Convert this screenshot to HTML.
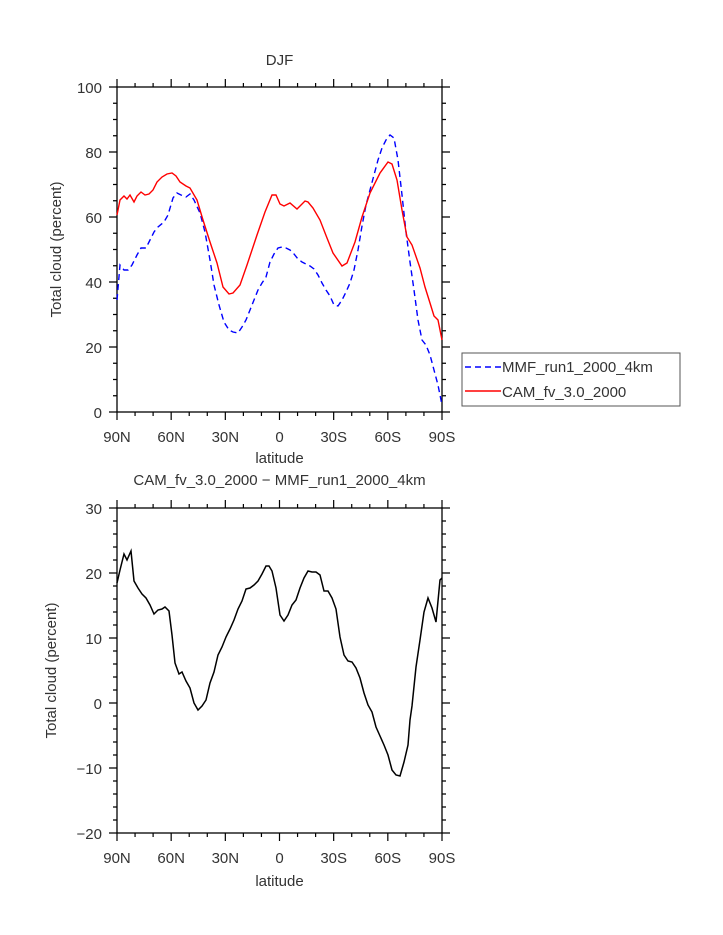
<!DOCTYPE html>
<html><head><meta charset="utf-8"><style>
html,body{margin:0;padding:0;background:#fff}
svg{display:block}
text{font-family:"Liberation Sans",sans-serif;fill:#333;font-size:15px}
</style></head><body>
<svg width="723" height="935" viewBox="0 0 723 935">
<!-- Plot 1 -->
<text x="279.5" y="65" text-anchor="middle" font-size="17">DJF</text>
<rect x="117" y="87" width="325" height="325" fill="none" stroke="#000" stroke-width="1.3"/>
<g stroke="#000" stroke-width="1.2" fill="none">
<path d="M117 412v8M171.17 412v8M225.33 412v8M279.5 412v8M333.67 412v8M387.83 412v8M442 412v8
M135.06 412v4M153.11 412v4M189.22 412v4M207.28 412v4M243.39 412v4M261.44 412v4M297.56 412v4M315.61 412v4M351.72 412v4M369.78 412v4M405.89 412v4M423.94 412v4"/>
<path d="M117 87v-8M171.17 87v-8M225.33 87v-8M279.5 87v-8M333.67 87v-8M387.83 87v-8M442 87v-8
M135.06 87v-4M153.11 87v-4M189.22 87v-4M207.28 87v-4M243.39 87v-4M261.44 87v-4M297.56 87v-4M315.61 87v-4M351.72 87v-4M369.78 87v-4M405.89 87v-4M423.94 87v-4"/>
<path d="M117 87h-8M117 152h-8M117 217h-8M117 282h-8M117 347h-8M117 412h-8
M117 103.25h-4M117 119.5h-4M117 135.75h-4M117 168.25h-4M117 184.5h-4M117 200.75h-4M117 233.25h-4M117 249.5h-4M117 265.75h-4M117 298.25h-4M117 314.5h-4M117 330.75h-4M117 363.25h-4M117 379.5h-4M117 395.75h-4"/>
<path d="M442 87h8M442 152h8M442 217h8M442 282h8M442 347h8M442 412h8
M442 103.25h4M442 119.5h4M442 135.75h4M442 168.25h4M442 184.5h4M442 200.75h4M442 233.25h4M442 249.5h4M442 265.75h4M442 298.25h4M442 314.5h4M442 330.75h4M442 363.25h4M442 379.5h4M442 395.75h4"/>
</g>
<g text-anchor="end">
<text x="102" y="93">100</text><text x="102" y="158">80</text><text x="102" y="223">60</text>
<text x="102" y="288">40</text><text x="102" y="353">20</text><text x="102" y="418">0</text>
</g>
<g text-anchor="middle">
<text x="117" y="442">90N</text><text x="171.17" y="442">60N</text><text x="225.33" y="442">30N</text>
<text x="279.5" y="442">0</text><text x="333.67" y="442">30S</text><text x="387.83" y="442">60S</text><text x="442" y="442">90S</text>
<text x="279.5" y="463">latitude</text>
</g>
<text transform="translate(61 249.5) rotate(-90)" text-anchor="middle">Total cloud (percent)</text>
<polyline fill="none" stroke="#0000ff" stroke-width="1.4" stroke-dasharray="6,4" points="117,300 120,265 124,270 128,270 132,265 137,255 141,248 146,248 150,240 154,232 158,227 164,222 168,215 173,198 177,193 181,195 186,197 190,194 194,200 200,213 205,232 210,260 214,285 219,305 224,322 229,330 233,332 238,333 242,327 246,320 250,310 254,300 258,290 262,283 266,277 270,262 274,254 278,248 282,247 286,248 290,250 294,254 298,259 302,262 306,264 310,266 314,269 318,275 322,283 326,290 330,296 334,305 338,306 342,300 346,292 350,283 354,270 358,250 362,226 366,205 370,190 374,175 378,160 382,148 386,140 390,135 394,138 398,160 402,195 406,232 410,262 414,290 418,320 422,340 426,345 430,355 434,370 438,385 442,405"/>
<polyline fill="none" stroke="#ff0000" stroke-width="1.4" points="117,215 120,200 124,196 127,199 130,195 134,202 137,196 141,192 145,195 149,194 153,190 157,182 162,177 167,174 172,173 176,176 180,182 186,186 190,188 197,200 203,220 210,242 217,263 223,287 229,294 233,293 240,285 247,265 257,235 265,212 272,195 276,195 280,204 284,206 290,203 297,209 305,201 308,202 313,208 320,220 327,238 333,253 342,266 347,263 355,242 362,217 370,193 380,173 388,162 392,164 397,180 402,210 407,237 412,245 420,268 425,287 430,303 434,316 438,320 442,340"/>
<!-- legend -->
<rect x="462" y="353" width="218" height="53" fill="#fff" stroke="#555" stroke-width="1"/>
<line x1="465" y1="367" x2="501" y2="367" stroke="#0000ff" stroke-width="1.4" stroke-dasharray="6,4"/>
<line x1="465" y1="391" x2="501" y2="391" stroke="#ff0000" stroke-width="1.4"/>
<text x="502" y="372">MMF_run1_2000_4km</text>
<text x="502" y="397">CAM_fv_3.0_2000</text>
<!-- Plot 2 -->
<text x="279.5" y="485" text-anchor="middle" font-size="17">CAM_fv_3.0_2000 − MMF_run1_2000_4km</text>
<rect x="117" y="508" width="325" height="325" fill="none" stroke="#000" stroke-width="1.3"/>
<g stroke="#000" stroke-width="1.2" fill="none">
<path d="M117 833v8M171.17 833v8M225.33 833v8M279.5 833v8M333.67 833v8M387.83 833v8M442 833v8
M135.06 833v4M153.11 833v4M189.22 833v4M207.28 833v4M243.39 833v4M261.44 833v4M297.56 833v4M315.61 833v4M351.72 833v4M369.78 833v4M405.89 833v4M423.94 833v4"/>
<path d="M117 508v-8M171.17 508v-8M225.33 508v-8M279.5 508v-8M333.67 508v-8M387.83 508v-8M442 508v-8
M135.06 508v-4M153.11 508v-4M189.22 508v-4M207.28 508v-4M243.39 508v-4M261.44 508v-4M297.56 508v-4M315.61 508v-4M351.72 508v-4M369.78 508v-4M405.89 508v-4M423.94 508v-4"/>
<path d="M117 508h-8M117 573h-8M117 638h-8M117 703h-8M117 768h-8M117 833h-8
M117 521h-4M117 534h-4M117 547h-4M117 560h-4M117 586h-4M117 599h-4M117 612h-4M117 625h-4M117 651h-4M117 664h-4M117 677h-4M117 690h-4M117 716h-4M117 729h-4M117 742h-4M117 755h-4M117 781h-4M117 794h-4M117 807h-4M117 820h-4"/>
<path d="M442 508h8M442 573h8M442 638h8M442 703h8M442 768h8M442 833h8
M442 521h4M442 534h4M442 547h4M442 560h4M442 586h4M442 599h4M442 612h4M442 625h4M442 651h4M442 664h4M442 677h4M442 690h4M442 716h4M442 729h4M442 742h4M442 755h4M442 781h4M442 794h4M442 807h4M442 820h4"/>
</g>
<g text-anchor="end">
<text x="102" y="514">30</text><text x="102" y="579">20</text><text x="102" y="644">10</text>
<text x="102" y="709">0</text><text x="102" y="774">−10</text><text x="102" y="839">−20</text>
</g>
<g text-anchor="middle">
<text x="117" y="863">90N</text><text x="171.17" y="863">60N</text><text x="225.33" y="863">30N</text>
<text x="279.5" y="863">0</text><text x="333.67" y="863">30S</text><text x="387.83" y="863">60S</text><text x="442" y="863">90S</text>
<text x="279.5" y="886">latitude</text>
</g>
<text transform="translate(56 670.5) rotate(-90)" text-anchor="middle">Total cloud (percent)</text>
<polyline fill="none" stroke="#000" stroke-width="1.5" points="117,583 120,570 124,554 127,560 131,551 134,581 138,588 142,594 146,598 150,605 154,614 158,610 162,609 165,607 169,611 172,635 175,663 179,674 182,672 186,681 190,688 194,703 198,710 202,706 206,700 210,683 214,672 218,655 222,647 226,637 230,629 234,620 238,609 242,601 246,589 250,588 254,585 258,581 262,574 266,566 269,566 272,571 276,588 280,615 284,621 288,615 292,605 296,600 300,588 304,578 308,571 312,572 316,572 320,575 324,591 328,591 332,598 336,609 340,637 344,655 348,661 352,662 356,668 360,678 364,693 368,705 372,712 376,727 380,736 384,745 388,755 392,770 396,775 400,776 404,762 408,745 410,720 412,706 416,667 420,640 424,612 428,598 432,608 436,622 440,580 442,578"/>
</svg>
</body></html>
